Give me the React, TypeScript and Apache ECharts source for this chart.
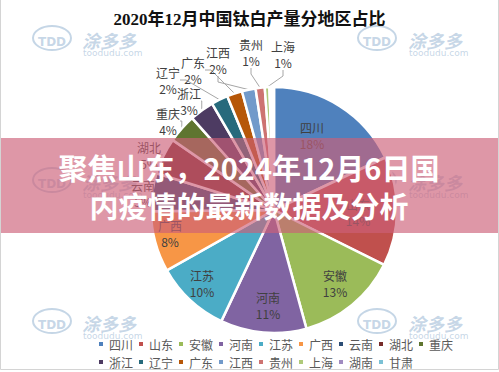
import React, { useEffect, useRef } from 'react';
import * as echarts from 'echarts';

const TITLE = '2020年12月中国钛白产量分地区占比';
const HEADLINE = ['聚焦山东，2024年12月6日国', '内疫情的最新数据及分析'];

const categories = ['四川', '山东', '安徽', '河南', '江苏', '广西', '云南', '湖北', '重庆', '浙江', '辽宁', '广东', '江西', '贵州', '上海', '湖南', '甘肃'];
const shares = [18, 14.4, 13.4, 11.3, 9.8, 8.0, 5.0, 4.8, 3.8, 3.2, 2.2, 2.0, 1.8, 1.2, 0.6, 0.3, 0.3];
const insideLabels = ['四川', '山东', '安徽', '河南', '江苏', '广西'];
const hiddenLabels = ['湖南', '甘肃'];

const COLORS = ['#4F81BD', '#C0504D', '#9BBB59', '#8064A2', '#4BACC6', '#F79646', '#2C4D75', '#772C2A', '#5F7530', '#4D3B62', '#276A7C', '#B65708', '#729ACA', '#CD7371', '#AFC97A', '#A08BC0', '#7BC1D5'];

// label anchor positions (layout only)
const LABEL_POS: Record<string, [number, number]> = {
  四川: [312, 135], 山东: [358, 212], 安徽: [335, 283], 河南: [268, 305], 江苏: [202, 283], 广西: [170, 233],
  云南: [143, 193], 湖北: [149, 155], 重庆: [168, 121], 浙江: [189, 101], 辽宁: [168, 80], 广东: [193, 70],
  江西: [218, 60], 贵州: [251, 52], 上海: [283, 54],
};

const WM_ROWS = [40, 182, 323];

function watermark(): any[] {
  const els: any[] = [];
  const blue = 'rgba(150,180,210,0.55)';
  WM_ROWS.forEach((y) => {
    [[52, 82], [377, 408]].forEach(([lx, tx]) => {
      els.push({ type: 'ellipse', shape: { cx: lx, cy: y - 2, rx: 19, ry: 12 }, style: { fill: 'none', stroke: blue, lineWidth: 2 }, z: 1 });
      els.push({ type: 'text', x: lx, y: y + 2, style: { text: 'TDD', font: 'bold 12px "DejaVu Sans"', fill: blue, align: 'center', verticalAlign: 'middle' }, z: 1 });
      els.push({ type: 'text', x: tx, y: y, style: { text: '涂多多', font: 'bold italic 18px "Noto Sans CJK SC"', fill: blue, align: 'left', verticalAlign: 'middle' }, z: 1 });
      els.push({ type: 'text', x: tx + 1, y: y + 13, style: { text: 'toodudu.com', font: '9px "DejaVu Sans"', fill: blue, align: 'left', verticalAlign: 'middle' }, z: 1 });
    });
  });
  return els;
}

export default function App() {
  const ref = useRef<HTMLDivElement>(null);
  useEffect(() => {
    if (!ref.current) return;
    const chart = echarts.init(ref.current, null, { renderer: 'svg' });
    const data = categories.map((name, i) => {
      const inside = insideLabels.includes(name);
      const hidden = hiddenLabels.includes(name);
      return {
        name,
        value: shares[i],
        label: { show: !hidden, position: inside ? 'inside' : 'outside' },
        labelLine: { show: !inside && !hidden },
      };
    });
    chart.setOption({
      animation: false,
      color: COLORS,
      title: {
        text: TITLE,
        left: 'center',
        top: 6,
        textStyle: { fontSize: 17, fontWeight: 'bold', color: '#111', fontFamily: '"Liberation Serif", "Noto Sans CJK SC"' },
      },
      legend: {
        data: categories,
        left: 92,
        top: 332,
        width: 360,
        icon: 'rect',
        itemWidth: 6,
        itemHeight: 6,
        itemGap: 4,
        textStyle: { fontSize: 12, color: '#595959', lineHeight: 14, fontFamily: '"Noto Sans CJK SC"' },
      },
      series: [
        {
          type: 'pie',
          center: [274, 210],
          radius: [0, 123],
          startAngle: 90,
          clockwise: true,
          avoidLabelOverlap: false,
          itemStyle: { borderColor: '#fff', borderWidth: 2.5 },
          label: {
            color: '#404040',
            fontSize: 12,
            lineHeight: 16,
            fontFamily: '"Noto Sans CJK SC"',
            formatter: (p: any) => `${p.name}\n${Math.round(p.percent)}%`,
          },
          labelLine: { length: 8, length2: 6, lineStyle: { color: '#a6a6a6', width: 1 } },
          labelLayout: (params: any) => {
            const name = categories[params.dataIndex];
            const pos = LABEL_POS[name];
            if (!pos) return {};
            return { x: pos[0], y: pos[1], align: 'center', verticalAlign: 'middle' };
          },
          data,
        },
      ],
      graphic: [
        ...watermark(),
        { type: 'rect', shape: { x: 0, y: 138, width: 499, height: 95 }, style: { fill: 'rgba(205,95,120,0.65)' }, z: 100 },
        {
          type: 'text', x: 249, y: 186, z: 101,
          style: {
            text: HEADLINE.join('\n'), align: 'center', verticalAlign: 'middle',
            font: 'bold 29px "Noto Sans CJK SC"', lineHeight: 38, fill: '#fff',
          },
        },
        { type: 'polyline', shape: { points: [[0.5, 0], [0.5, 369.5], [498.5, 369.5], [498.5, 0]] }, style: { stroke: '#d4d4d4', lineWidth: 1, fill: 'none' }, z: 101 },
      ],
    });
    return () => chart.dispose();
  }, []);
  return <div ref={ref} style={{ position: 'fixed', left: 0, top: 0, width: 499, height: 372, background: '#fff' }} />;
}
